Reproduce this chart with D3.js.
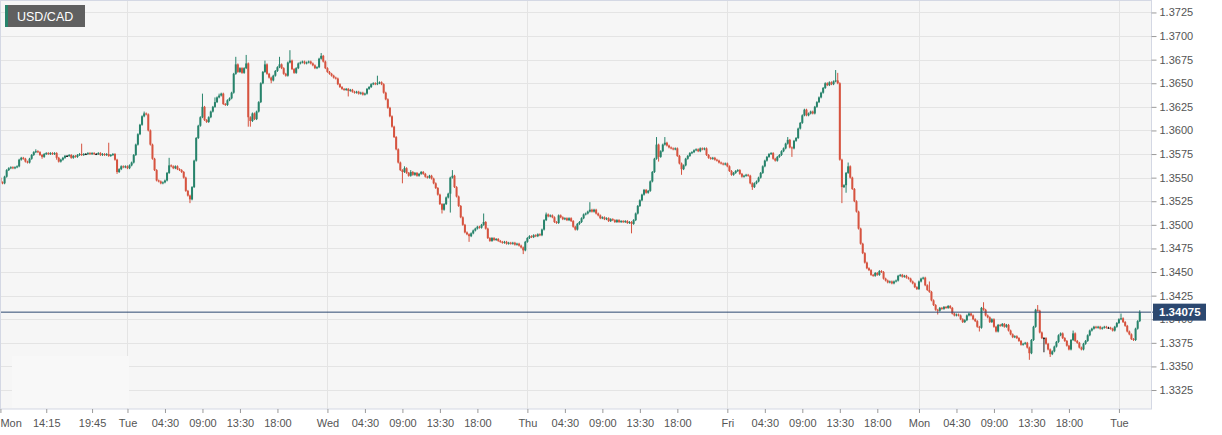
<!DOCTYPE html>
<html>
<head>
<meta charset="utf-8">
<script src="https://cdn.jsdelivr.net/npm/d3@7"></script>
<style>
  html, body { margin: 0; padding: 0; background: #fff; }
  svg { display: block; font-family: "Liberation Sans", Arial, Helvetica, sans-serif; }
</style>
</head>
<body>
<div id="chart"></div>
<script>
const symbol = 'USD/CAD'
const lastPrice = 1.34075

// 15 minute candles, prices in pips above pipBase, open = previous close
const pipBase = 1.33
const pip = 0.0001
const firstOpen = 250
const closePips = [
  245,244,251,258,260,261,260,261,262,269,271,270,267,266,270,274,277,278,277,274,272,275,276,275,
  276,275,276,271,267,269,271,273,273,274,271,273,272,274,275,274,275,275,276,275,276,275,275,276,
  274,275,274,275,273,274,275,269,256,259,262,261,262,260,263,266,274,285,296,306,315,318,317,300,
  285,270,258,247,246,244,245,247,255,263,262,260,262,259,258,256,250,236,231,227,240,268,292,305,
  314,325,311,309,314,320,325,330,335,337,339,328,327,332,334,340,360,370,362,366,361,366,371,314,
  310,318,312,320,330,350,362,370,360,356,353,358,363,367,370,366,360,358,372,374,365,361,366,371,
  372,373,371,372,373,371,369,366,367,376,379,373,366,362,360,358,356,355,349,346,344,343,344,342,
  343,341,340,341,339,340,338,339,344,346,349,350,349,350,351,349,340,333,324,315,304,293,280,266,
  258,256,260,255,252,256,253,255,252,254,256,254,251,250,252,249,244,239,232,222,216,222,229,233,
  250,252,240,230,220,208,200,192,190,188,191,194,196,198,197,200,203,196,186,183,186,184,185,183,
  182,181,182,180,181,180,181,179,180,178,176,173,182,186,188,187,189,188,190,189,195,205,211,209,
  210,208,203,202,210,208,206,207,205,207,204,198,195,201,203,207,211,212,214,216,214,216,212,210,
  207,208,206,207,204,206,205,203,205,203,204,203,204,202,203,201,205,212,220,226,232,237,234,236,
  246,256,270,285,272,278,285,287,284,282,281,280,281,273,265,259,263,270,273,276,277,279,280,278,
  281,280,281,274,271,270,271,269,268,266,265,264,265,262,257,253,255,257,258,254,251,252,253,252,
  244,240,244,246,250,255,262,268,272,275,276,270,268,272,274,278,281,286,290,282,281,289,292,302,
  308,316,322,316,318,320,318,325,330,335,340,345,350,348,351,349,352,353,350,269,240,242,255,262,
  250,238,225,214,196,180,170,160,154,152,147,146,149,147,151,150,143,141,139,140,138,140,141,146,
  147,145,146,144,143,140,138,134,132,140,143,144,136,131,129,120,115,110,109,112,111,113,112,114,
  112,106,104,105,104,100,97,99,104,106,104,100,98,92,91,112,110,104,102,97,100,92,87,94,
  93,95,92,94,88,84,81,82,80,77,73,74,75,70,64,78,92,110,109,86,80,80,74,68,
  63,66,71,76,83,85,80,77,72,68,78,85,77,75,70,68,74,77,83,88,90,92,91,92,
  90,91,92,91,91,90,88,92,96,100,101,97,93,87,84,79,78,90,98,107.5
]
const wickUp = [
  1,1,1,1,1,1,1,1,1,1,1,1,1,1,1,1,1,2,1,1,1,1,1,1,
  1,1,1,1,1,1,1,1,1,1,1,1,1,1,1,11,1,1,1,1,1,1,1,1,
  1,1,1,1,12,1,1,1,1,1,1,1,1,1,1,1,1,1,1,1,1,2,1,1,
  1,1,1,1,1,1,1,1,1,8,1,1,1,1,1,1,1,1,1,1,1,1,1,1,
  1,14,1,1,1,1,1,5,1,2,1,1,1,1,1,1,1,8,1,1,1,1,9,1,
  1,1,1,1,1,1,1,4,1,1,1,1,1,1,8,1,1,1,1,11,1,1,1,1,
  1,1,1,1,1,1,1,1,1,1,3,1,1,1,1,1,1,1,1,1,1,1,1,1,
  1,1,1,1,1,1,1,1,1,1,1,1,1,8,1,1,1,1,1,1,1,1,1,1,
  1,1,2,1,1,2,1,1,1,1,1,1,1,1,1,1,1,1,1,1,1,1,1,1,
  1,6,1,1,1,1,1,1,1,1,1,1,1,1,1,1,9,1,1,1,1,1,1,1,
  1,1,1,1,1,1,1,1,1,1,1,1,1,1,1,1,1,1,1,1,1,1,2,1,
  1,1,1,1,1,1,1,1,1,1,1,1,1,1,1,1,1,1,1,8,1,1,1,1,
  1,1,1,1,1,1,1,1,1,1,1,1,1,1,1,1,1,1,1,1,1,1,1,1,
  1,1,1,8,1,1,1,6,1,1,1,1,1,1,1,1,1,1,1,1,1,1,1,1,
  1,1,1,1,1,1,1,1,1,1,1,1,1,1,1,1,1,1,1,1,1,1,1,1,
  1,1,1,1,1,1,1,1,1,1,1,1,1,1,1,1,1,1,3,1,1,1,1,1,
  1,1,1,1,1,1,1,1,1,1,1,1,1,1,1,1,1,11,8,1,1,1,1,4,
  1,1,1,1,1,1,1,1,1,1,1,1,1,1,1,1,1,1,1,1,1,1,1,1,
  1,1,1,1,1,1,1,1,1,1,1,1,1,1,9,1,1,1,1,1,1,1,1,1,
  1,1,1,1,1,1,1,1,1,1,1,1,1,1,1,1,6,1,1,1,1,1,1,1,
  1,1,1,1,1,1,1,1,1,1,1,1,1,1,1,1,1,1,5,1,1,1,1,1,
  1,1,1,1,1,1,1,1,1,1,1,3,1,1,1,1,1,1,1,1,1,1,1,1,
  1,1,1,1,1,1,1,1,1,1,5,1,1,1,1,1,1,1,1,2
]
const wickDown = [
  1,1,1,1,1,1,1,1,1,1,1,1,1,1,1,1,1,1,1,1,2,1,1,1,
  1,1,1,2,1,1,1,1,1,1,1,1,1,1,1,1,1,1,1,1,1,1,1,1,
  1,1,1,1,1,1,1,1,2,1,1,1,1,1,1,1,1,1,1,1,1,1,1,1,
  1,1,1,1,1,1,1,1,1,1,1,1,1,1,1,1,1,1,1,4,1,1,1,1,
  1,1,1,1,1,1,1,1,1,1,1,1,1,1,1,1,1,1,1,1,1,1,1,10,
  6,1,1,1,1,1,1,1,1,1,3,1,1,1,1,1,1,1,1,1,1,1,1,1,
  1,1,1,1,1,1,1,1,1,1,1,1,1,1,1,1,1,1,1,1,1,1,1,6,
  1,1,1,1,1,1,1,1,1,1,1,1,1,1,1,1,1,1,1,1,1,1,1,1,
  1,12,1,1,1,1,1,1,1,1,1,1,1,1,1,1,1,1,1,1,4,1,1,1,
  20,1,1,1,1,1,1,1,1,6,1,1,1,1,1,1,1,1,1,1,1,1,1,1,
  1,1,1,1,1,1,1,1,1,1,1,4,1,1,1,1,1,1,1,1,1,1,1,1,
  1,1,1,1,1,1,1,1,1,1,1,1,1,1,1,1,1,1,1,1,1,1,1,1,
  1,1,1,1,1,1,1,1,1,1,1,1,1,1,1,10,1,1,1,1,1,1,1,1,
  1,1,1,1,5,1,1,1,1,1,1,1,1,1,1,6,1,1,1,1,1,1,1,1,
  1,1,1,1,1,1,1,1,1,1,1,1,1,1,1,1,1,1,1,1,1,1,1,1,
  1,3,1,1,1,1,1,1,1,1,1,1,1,1,1,1,1,1,1,1,9,1,1,1,
  1,1,1,1,1,1,1,1,1,1,1,1,1,1,1,1,1,1,1,1,17,1,8,1,
  1,1,1,1,1,1,1,1,1,1,1,1,1,1,1,1,1,1,1,1,1,1,1,1,
  1,1,1,1,1,1,1,1,1,1,1,1,1,1,1,1,1,1,4,1,1,1,1,1,
  1,1,1,1,1,1,1,1,1,1,1,1,1,1,4,1,1,1,1,1,1,1,1,1,
  1,1,1,1,1,1,1,1,1,1,1,1,1,1,7,1,1,1,1,1,1,15,1,1,
  3,1,1,1,1,1,1,1,1,1,1,1,1,1,1,1,1,1,1,1,1,1,1,1,
  1,1,1,1,1,1,1,1,1,1,1,1,1,1,1,1,1,1,1,1
]

const yTicks = [1.3325,1.3350,1.3375,1.3400,1.3425,1.3450,1.3475,1.3500,1.3525,1.3550,1.3575,1.3600,1.3625,1.3650,1.3675,1.3700,1.3725]
const xTickLabels = ['Mon','14:15','19:45','Tue','04:30','09:00','13:30','18:00','Wed','04:30','09:00','13:30','18:00','Thu','04:30','09:00','13:30','18:00','Fri','04:30','09:00','13:30','18:00','Mon','04:30','09:00','13:30','18:00','Tue']
const xTickCandle = [0,22,44,61,79,97,115,133,157,175,193,211,229,253,271,289,307,325,349,367,385,403,421,441,459,477,495,513,537]

const width = 1222
const height = 435
const plotW = 1151
const plotH = 409
const upColor = '#27836b'
const downColor = '#d6533f'
const flatColor = '#1a1a1a'

const candles = closePips.map((c, i) => {
  const o = i ? closePips[i - 1] : firstOpen
  return {
    i,
    dir: c > o ? 1 : (c < o ? -1 : 0),
    open: pipBase + o * pip,
    close: pipBase + c * pip,
    high: pipBase + (Math.max(o, c) + wickUp[i]) * pip,
    low: pipBase + (Math.min(o, c) - wickDown[i]) * pip
  }
})

const x = d3.scaleLinear().domain([-0.2, 552.4]).range([0, plotW])
const y = d3.scaleLinear().domain([1.33049, 1.37382]).range([plotH, 0])
const colorOf = d => d.dir > 0 ? upColor : (d.dir < 0 ? downColor : flatColor)

const svg = d3.select('#chart').append('svg')
  .attr('width', width)
  .attr('height', height)

svg.append('defs').append('clipPath').attr('id', 'plotclip')
  .append('rect').attr('width', plotW).attr('height', plotH)

svg.append('rect')
  .attr('width', plotW)
  .attr('height', plotH)
  .attr('fill', '#f6f6f6')

const grid = svg.append('g').attr('class', 'grid')
grid.selectAll('.hgrid')
  .data(yTicks)
  .enter().append('line')
  .attr('class', 'hgrid')
  .attr('x1', 0).attr('x2', plotW)
  .attr('y1', d => Math.round(y(d)) + 0.5)
  .attr('y2', d => Math.round(y(d)) + 0.5)
  .attr('stroke', '#e4e4e4')

const dayTicks = xTickCandle.filter((d, i) => i > 0 && xTickLabels[i].indexOf(':') < 0)
grid.selectAll('.vgrid')
  .data(dayTicks)
  .enter().append('line')
  .attr('class', 'vgrid')
  .attr('x1', d => Math.round(x(d)) + 0.5)
  .attr('x2', d => Math.round(x(d)) + 0.5)
  .attr('y1', 0).attr('y2', plotH)
  .attr('stroke', '#e4e4e4')

// pale empty panel in the lower left corner
svg.append('rect')
  .attr('x', 12).attr('y', 356)
  .attr('width', 117).attr('height', plotH - 357)
  .attr('fill', '#f8f8f8')

const candleG = svg.append('g').attr('clip-path', 'url(#plotclip)')
const bw = 2

candleG.selectAll('.wick')
  .data(candles)
  .enter().append('line')
  .attr('class', 'wick')
  .attr('x1', d => x(d.i)).attr('x2', d => x(d.i))
  .attr('y1', d => y(d.high)).attr('y2', d => y(d.low))
  .attr('stroke', colorOf)
  .attr('stroke-width', 1)

candleG.selectAll('.body')
  .data(candles)
  .enter().append('rect')
  .attr('class', 'body')
  .attr('x', d => x(d.i) - bw / 2)
  .attr('width', bw)
  .attr('y', d => y(Math.max(d.open, d.close)))
  .attr('height', d => Math.max(1, Math.abs(y(d.open) - y(d.close))))
  .attr('fill', colorOf)

svg.append('line')
  .attr('x1', 0).attr('x2', plotW + 2)
  .attr('y1', y(lastPrice)).attr('y2', y(lastPrice))
  .attr('stroke', '#2c4870')
  .attr('stroke-width', 1)

svg.append('rect')
  .attr('x', 0.5).attr('y', 0.5)
  .attr('width', plotW).attr('height', plotH - 0.5)
  .attr('fill', 'none')
  .attr('stroke', '#d4d8e4')

const yAxis = svg.append('g')
  .attr('class', 'yaxis')
  .attr('transform', `translate(${plotW + 0.5}, 0)`)
  .call(d3.axisRight(y).tickValues(yTicks).tickFormat(d3.format('.4f')).tickSize(5).tickPadding(3))
yAxis.select('.domain').remove()
yAxis.selectAll('.tick line').attr('stroke', '#9a9a9a')
yAxis.selectAll('.tick text')
  .attr('fill', '#555')
  .style('font-size', '11px')
  .style('font-family', '"Liberation Sans", Arial, sans-serif')

const xAxis = svg.append('g')
  .attr('class', 'xaxis')
  .attr('transform', `translate(0, ${plotH})`)
  .call(d3.axisBottom(x).tickValues(xTickCandle).tickFormat((d, i) => xTickLabels[i]).tickSize(4).tickPadding(6))
xAxis.select('.domain').remove()
xAxis.selectAll('.tick line').attr('stroke', '#9a9a9a')
xAxis.selectAll('.tick text')
  .attr('fill', '#555')
  .style('font-size', '11px')
  .style('font-family', '"Liberation Sans", Arial, sans-serif')
xAxis.selectAll('.tick text')
  .filter((d, i) => i === 0)
  .attr('text-anchor', 'start')
  .attr('x', -0.5)

// last price tag, drawn over the 1.3400 label as in the source
const tag = svg.append('g').attr('transform', `translate(${plotW + 2}, ${y(lastPrice)})`)
tag.append('rect')
  .attr('x', 0).attr('y', -8.5)
  .attr('width', 53).attr('height', 17)
  .attr('fill', '#2c4870')
tag.append('text')
  .attr('x', 6).attr('dy', '0.36em')
  .attr('fill', '#fff')
  .style('font-size', '11.5px')
  .style('font-weight', 'bold')
  .text(d3.format('.5f')(lastPrice))

// symbol legend
const legend = svg.append('g').attr('transform', 'translate(5, 5)')
legend.append('rect')
  .attr('width', 80).attr('height', 22)
  .attr('fill', '#606060')
legend.append('rect')
  .attr('width', 3).attr('height', 22)
  .attr('fill', upColor)
legend.append('text')
  .attr('x', 12).attr('y', 15.7)
  .attr('fill', '#fff')
  .style('font-size', '12.5px')
  .text(symbol)
</script>
</body>
</html>
